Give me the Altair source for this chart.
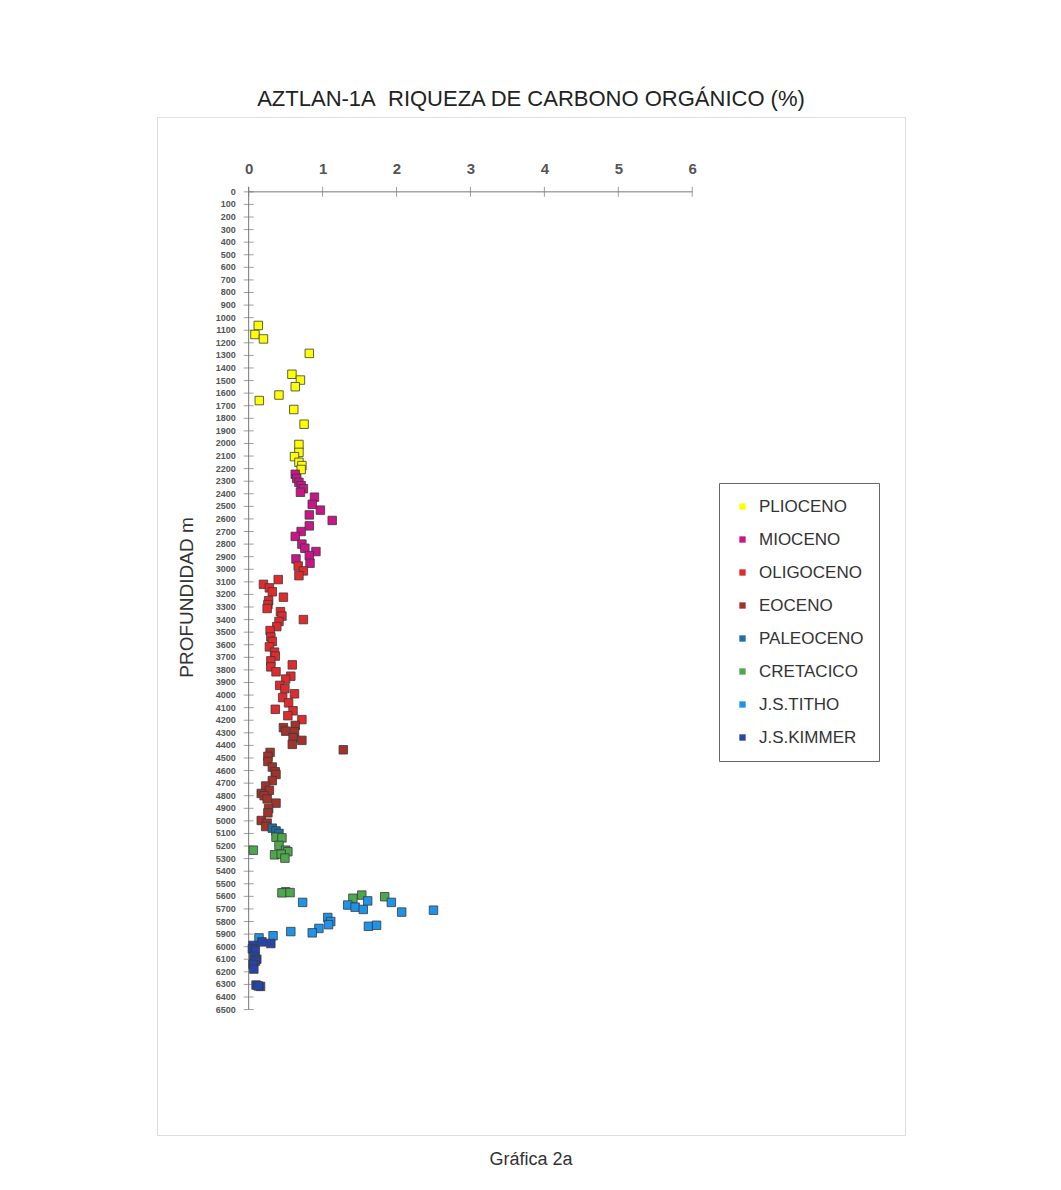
import altair as alt
import pandas as pd

# ---------------- data ----------------
epochs = ["PLIOCENO", "MIOCENO", "OLIGOCENO", "EOCENO", "PALEOCENO",
          "CRETACICO", "J.S.TITHO", "J.S.KIMMER"]
epoch_colors = ["#FFFF00", "#C8168A", "#E02A2E", "#A3322B", "#1F6DA3",
                "#4DA84D", "#1E93E8", "#2645A8"]

plioceno_cot = [0.13, 0.085, 0.20, 0.82, 0.585, 0.70, 0.63, 0.41, 0.144, 0.61,
                0.75, 0.68, 0.68, 0.62, 0.68, 0.72, 0.71]
plioceno_depth = [1062, 1134, 1169, 1284, 1450, 1496, 1549, 1615, 1659, 1730,
                  1847, 2008, 2071, 2105, 2150, 2176, 2207]

mioceno_cot = [0.63, 0.65, 0.68, 0.71, 0.74, 0.70, 0.89, 0.86, 0.97, 0.82,
               1.13, 0.82, 0.71, 0.63, 0.72, 0.76, 0.91, 0.82, 0.64, 0.83]
mioceno_depth = [2245, 2278, 2309, 2335, 2360, 2388, 2427, 2484, 2530, 2568,
                 2612, 2655, 2700, 2739, 2800, 2833, 2859, 2891, 2918, 2952]

oligoceno_cot = [0.67, 0.74, 0.68, 0.40, 0.20, 0.28, 0.32, 0.47, 0.27, 0.26,
                 0.25, 0.43, 0.45, 0.74, 0.41, 0.38, 0.29, 0.30, 0.32, 0.28,
                 0.35, 0.36, 0.30, 0.59, 0.30, 0.37, 0.57, 0.50, 0.42, 0.49,
                 0.62, 0.46, 0.54, 0.36, 0.60, 0.53, 0.72]
oligoceno_depth = [2975, 3013, 3051, 3082, 3120, 3148, 3179, 3222, 3250, 3281,
                   3312, 3337, 3372, 3400, 3415, 3456, 3487, 3538, 3574, 3617,
                   3659, 3690, 3728, 3760, 3776, 3815, 3850, 3873, 3923, 3949,
                   3990, 4020, 4062, 4113, 4125, 4164, 4195]

eoceno_cot = [0.63, 0.47, 0.50, 0.62, 0.60, 0.72, 0.59, 1.28, 0.29, 0.26,
              0.26, 0.32, 0.36, 0.37, 0.32, 0.23, 0.28, 0.17, 0.21, 0.25,
              0.37, 0.27, 0.26, 0.17, 0.25, 0.23]
eoceno_depth = [4241, 4259, 4287, 4292, 4338, 4360, 4392, 4435, 4456, 4487,
                4528, 4572, 4610, 4631, 4680, 4723, 4757, 4782, 4800, 4826,
                4859, 4903, 4936, 4997, 5018, 5045]

paleoceno_cot = [0.32, 0.37, 0.41]
paleoceno_depth = [5058, 5080, 5100]

cretacico_cot = [0.37, 0.45, 0.41, 0.063, 0.50, 0.53, 0.35, 0.44, 0.49,
                 0.50, 0.45, 0.56, 1.41, 1.53, 1.84]
cretacico_depth = [5130, 5135, 5195, 5233, 5233, 5245, 5270, 5265, 5296,
                   5564, 5572, 5570, 5615, 5590, 5603]

titho_cot = [0.73, 1.34, 1.44, 1.55, 1.61, 1.93, 2.07, 2.50, 1.07, 1.11,
             1.08, 1.62, 1.73, 0.95, 0.86, 0.57, 0.14, 0.33]
titho_depth = [5648, 5669, 5686, 5704, 5636, 5648, 5725, 5710, 5768, 5800,
               5825, 5838, 5830, 5855, 5890, 5880, 5930, 5913]

kimmer_cot = [0.18, 0.30, 0.06, 0.05, 0.09, 0.07, 0.11, 0.09, 0.06, 0.07,
              0.10, 0.16, 0.13]
kimmer_depth = [5962, 5975, 5990, 6017, 6030, 6077, 6100, 6115, 6140, 6178,
                6305, 6316, 6312]

x_ticks = [0, 1, 2, 3, 4, 5, 6]
depth_ticks = list(range(0, 6600, 100))

title_text = "AZTLAN-1A\u00a0\u00a0RIQUEZA DE CARBONO ORGÁNICO (%)"
caption_text = "Gráfica 2a"
y_title = "PROFUNDIDAD m"

# ---------------- build table ----------------
series = [
    (plioceno_cot, plioceno_depth), (mioceno_cot, mioceno_depth),
    (oligoceno_cot, oligoceno_depth), (eoceno_cot, eoceno_depth),
    (paleoceno_cot, paleoceno_depth), (cretacico_cot, cretacico_depth),
    (titho_cot, titho_depth), (kimmer_cot, kimmer_depth),
]
rows = []
for name, (xs, ds) in zip(epochs, series):
    for xv, dv in zip(xs, ds):
        rows.append({"epoch": name, "cot": xv, "depth": dv})
df = pd.DataFrame(rows)

FONT = "Liberation Sans"
W, H = 748, 1018
x_scale = alt.Scale(domain=[-1.24, 8.878], nice=False, zero=False)
y_scale = alt.Scale(domain=[-595, 7497], reverse=True, nice=False, zero=False)

axis_col = "#777777"
tick_df = pd.DataFrame({"depth": depth_ticks, "lab": [str(d) for d in depth_ticks]})

y_line = alt.Chart(pd.DataFrame({"k": [0]})).mark_rule(color=axis_col, strokeWidth=1).encode(
    x=alt.datum(0), y=alt.datum(-40), y2=alt.datum(depth_ticks[-1]))
x_line = alt.Chart(pd.DataFrame({"k": [0]})).mark_rule(color=axis_col, strokeWidth=1).encode(
    x=alt.datum(0), x2=alt.datum(x_ticks[-1]), y=alt.datum(0))

y_tick_marks = alt.Chart(tick_df).mark_tick(
    orient="horizontal", size=10, thickness=1, color=axis_col).encode(
    x=alt.datum(0), y=alt.Y("depth:Q"))
y_tick_labels = alt.Chart(tick_df).mark_text(
    align="right", baseline="middle", dx=-13, fontSize=9, fontWeight="bold",
    font=FONT, color="#555555").encode(
    x=alt.datum(0), y=alt.Y("depth:Q"), text="lab:N")
x_tick_marks = alt.Chart(pd.DataFrame({"cot": x_ticks})).mark_tick(
    orient="vertical", size=10, thickness=1, color=axis_col).encode(
    x=alt.X("cot:Q"), y=alt.datum(0))

points = alt.Chart(df).mark_square(
    size=72, filled=True, stroke="#3a3a3a", strokeWidth=0.8, opacity=1).encode(
    x=alt.X("cot:Q", scale=x_scale,
            axis=alt.Axis(orient="top", values=x_ticks, format="d", offset=-75,
                          domain=False, ticks=False, tickSize=0, grid=False,
                          labelPadding=16, labelFontSize=15, labelFontWeight="bold",
                          labelColor="#555555", labelFont=FONT, title=None)),
    y=alt.Y("depth:Q", scale=y_scale,
            axis=alt.Axis(values=[0], offset=-91.7, domain=False, ticks=False,
                          tickSize=0, grid=False, labels=False,
                          title=y_title, titleFontSize=19,
                          titleFontWeight="normal", titleColor="#333333", titleFont=FONT,
                          titleX=-62, titleY=480, titleAngle=270, titleAlign="center",
                          titleBaseline="middle")),
    color=alt.Color("epoch:N", scale=alt.Scale(domain=epochs, range=epoch_colors),
                    legend=alt.Legend(title=None, orient="none", legendX=562, legendY=366,
                                      symbolType="square", symbolSize=40,
                                      symbolStrokeWidth=0, labelFontSize=17,
                                      labelColor="#333333", labelFont=FONT,
                                      labelOffset=8, rowPadding=15, padding=15,
                                      strokeColor="#666666", fillColor="#ffffff")),
)

caption = alt.Chart(pd.DataFrame({"t": [caption_text]})).mark_text(
    fontSize=18, font=FONT, color="#333333", baseline="middle", align="center").encode(
    x=alt.value(W / 2), y=alt.value(H + 25), text="t:N")

chart = alt.layer(y_line, x_line, y_tick_marks, y_tick_labels, x_tick_marks, points,
                  caption).properties(
    width=W, height=H,
    padding={"left": 149, "top": 80, "right": 5, "bottom": 5},
    title=alt.TitleParams(title_text, fontSize=22, fontWeight="normal", color="#222222",
                          font=FONT, offset=6, anchor="middle"),
).configure_view(stroke="#666666", strokeWidth=1).configure(background="white")

chart.save("out.html", embed_options={"renderer": "svg", "actions": False})
